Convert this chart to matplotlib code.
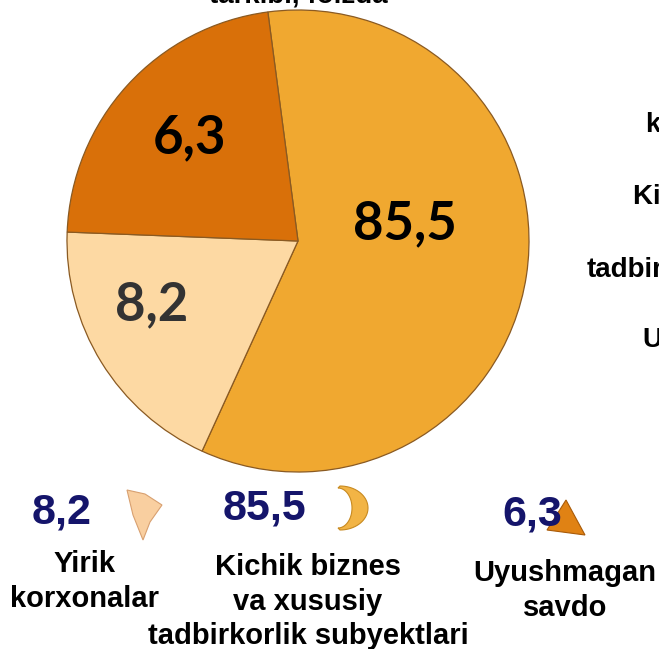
import numpy as np
import matplotlib
matplotlib.use("Agg")
import matplotlib.pyplot as plt
from matplotlib.patches import Polygon

# ---------------- data ----------------
categories = ["Kichik biznes\nva xususiy\ntadbirkorlik subyektlari",
              "Yirik\nkorxonalar",
              "Uyushmagan\nsavdo"]
values = [85.5, 8.2, 6.3]                 # printed values
slice_shares = [58.9, 18.8, 22.3]         # slice sizes as drawn in the picture
value_labels = ["85,5", "8,2", "6,3"]
colors = ["#F0A830", "#FDD9A3", "#D97009"]
label_colors = ["#000000", "#333333", "#000000"]
title_text = "tarkibi, foizda"
right_texts = ["korxonalar", "Kichik biznes", "tadbirkorlik", "Uyushmagan"]

W, H = 659, 649
fig = plt.figure(figsize=(W / 100, H / 100), dpi=100)
fig.patch.set_facecolor("white")

# ---------------- pie ----------------
cx, cy, r = 298, 241, 231
ax = fig.add_axes([(cx - r) / W, (H - cy - r) / H, 2 * r / W, 2 * r / H])
wedges, _ = ax.pie(slice_shares, colors=colors, startangle=97.5, counterclock=False,
                   radius=1.0,
                   wedgeprops=dict(edgecolor="#8A5A22", linewidth=0.9))
ax.set_xlim(-1, 1)
ax.set_ylim(-1, 1)
ax.set_aspect("equal")
ax.axis("off")

in_pos = [(0.463, 0.074), (-0.632, -0.277), (-0.468, 0.446)]
for (x, y), lab, c in zip(in_pos, value_labels, label_colors):
    ax.text(x, y, lab, ha="center", va="center", fontsize=38, fontweight="bold",
            color=c, family=["Lato", "DejaVu Sans"])

# ---------------- overlay in pixel coords ----------------
ov = fig.add_axes([0, 0, 1, 1], zorder=5)
ov.set_xlim(0, W)
ov.set_ylim(H, 0)
ov.axis("off")
ov.patch.set_alpha(0)

font = ["Liberation Sans", "DejaVu Sans"]

# cut-off title at top
ov.text(298, 2.5, title_text, ha="center", va="baseline", fontsize=20,
        fontweight="bold", family=font, color="black")

# cut-off right texts
right_pos = [(645, 125), (633, 197), (587, 270), (642, 340)]
for (x, y), t in zip(right_pos, right_texts):
    ov.text(x, y, t, ha="left", va="center", fontsize=20, fontweight="bold",
            family=font, color="black")

# bottom legend: numbers
num_order = [1, 0, 2]
num_pos = [(62, 512), (265, 508), (532, 515)]
for (x, y), i in zip(num_pos, num_order):
    ov.text(x, y, value_labels[i], ha="center", va="center", fontsize=31,
            fontweight="bold", family=font, color="#15156B")

# bottom legend: category texts
cat_pos = [(85, 550), (308, 553), (565, 559)]
for (x, y), i in zip(cat_pos, num_order):
    ov.text(x, y, categories[i], ha="center", va="top", fontsize=21,
            fontweight="bold", family=font, color="black", linespacing=1.3)

# bottom legend: icons
# light triangle-like icon
ov.add_patch(Polygon([(127, 490), (145, 494), (162, 505), (150, 522), (143, 540),
                      (133, 515)], closed=True, facecolor="#F9CFA0",
                     edgecolor="#D8A070", linewidth=0.8))
# crescent icon
t = np.linspace(-np.pi / 2, np.pi / 2, 40)
outer = np.column_stack([340 + 28 * np.cos(t), 508 - 22 * np.sin(t)])
inner = np.column_stack([338 + 14 * np.cos(t[::-1]), 508 - 20 * np.sin(t[::-1])])
ov.add_patch(Polygon(np.vstack([outer, inner]), closed=True, facecolor="#F2B445",
                     edgecolor="#C88A20", linewidth=0.8))
# dark triangle icon
ov.add_patch(Polygon([(566, 500), (547, 530), (585, 535)], closed=True,
                     facecolor="#E08214", edgecolor="#A85A08", linewidth=0.8))

fig.savefig("out.png", dpi=100, facecolor="white")
